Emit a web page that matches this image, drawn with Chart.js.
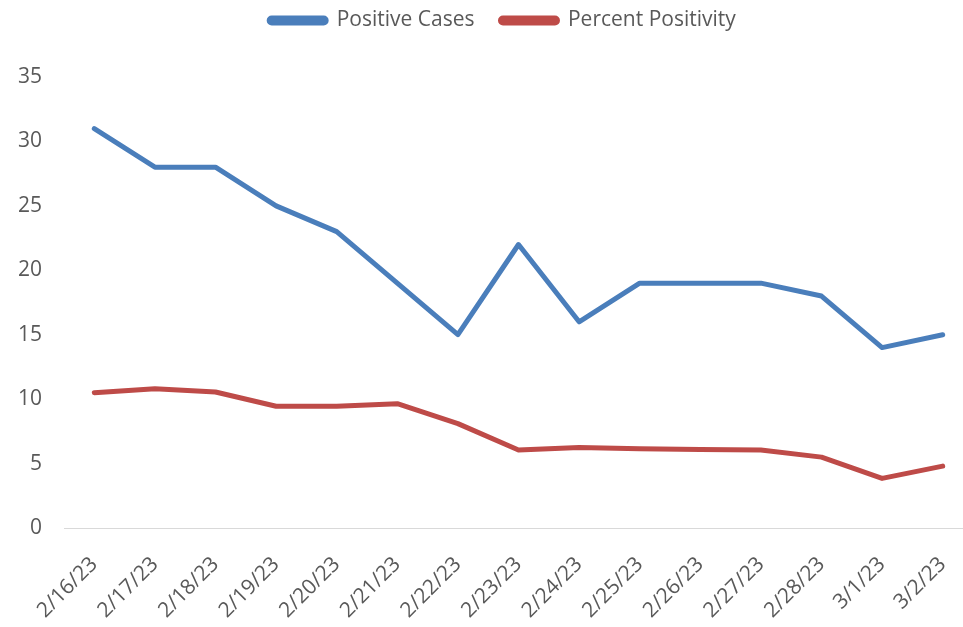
<!DOCTYPE html>
<html>
<head>
<meta charset="utf-8">
<script src="https://cdn.jsdelivr.net/npm/chart.js@4"></script>
<style>
  html, body { margin: 0; padding: 0; background: #fff; overflow: hidden; }
  canvas { display: block; }
</style>
</head>
<body>
<!-- a little wider than the window: the plot runs past the right edge, as in the original -->
<canvas id="chart" width="973" height="627"></canvas>
<script>
const dates = ['2/16/23', '2/17/23', '2/18/23', '2/19/23', '2/20/23', '2/21/23', '2/22/23', '2/23/23',
  '2/24/23', '2/25/23', '2/26/23', '2/27/23', '2/28/23', '3/1/23', '3/2/23'];
const positiveCases = [31, 28, 28, 25, 23, 19, 15, 22, 16, 19, 19, 19, 18, 14, 15];
const percentPositivity = [10.5, 10.8, 10.55, 9.45, 9.45, 9.65, 8.1, 6.05, 6.25, 6.15, 6.1, 6.05, 5.5, 3.85, 4.8];
const yTicks = [0, 5, 10, 15, 20, 25, 30, 35];

const textColor = '#595959';
const fontFamily = '"Open Sans", "Noto Sans", sans-serif';

// legend in the original sits a bit right of the canvas centre
const legendShift = {
  id: 'legendShift',
  afterLayout(chart) {
    chart.legend.left += 16;
    chart.legend.right += 16;
  },
};

new Chart(document.getElementById('chart'), {
  type: 'line',
  data: {
    labels: dates,
    datasets: [
      {
        label: 'Positive Cases',
        data: positiveCases,
        borderColor: '#4A7EBB',
        backgroundColor: '#4A7EBB',
        borderWidth: 5,
        borderJoinStyle: 'round',
        borderCapStyle: 'round',
        pointRadius: 0,
        tension: 0,
      },
      {
        label: 'Percent Positivity',
        data: percentPositivity,
        borderColor: '#BE4B48',
        backgroundColor: '#BE4B48',
        borderWidth: 5,
        borderJoinStyle: 'round',
        borderCapStyle: 'round',
        pointRadius: 0,
        tension: 0,
      },
    ],
  },
  plugins: [legendShift],
  options: {
    responsive: false,
    animation: false,
    layout: { padding: { top: -16, right: 0, left: 0, bottom: 0 } },
    plugins: {
      legend: {
        position: 'top',
        align: 'center',
        labels: {
          boxWidth: 57,
          boxHeight: 5,
          useBorderRadius: true,
          borderRadius: 2.5,
          padding: 26,
          color: textColor,
          font: { family: fontFamily, size: 21 },
        },
      },
      // empty spacer between legend and plot
      subtitle: {
        display: true,
        text: '',
        weight: 500,
        font: { size: 12, lineHeight: 1 },
        padding: { top: 0, bottom: 24 },
      },
      tooltip: { enabled: false },
    },
    scales: {
      x: {
        offset: true,
        grid: { display: false, drawTicks: false },
        border: { display: true, color: '#D9D9D9', width: 1 },
        ticks: {
          color: textColor,
          font: { family: fontFamily, size: 21 },
          maxRotation: 45,
          minRotation: 45,
          padding: 24,
          autoSkip: false,
        },
        afterFit: s => {
          s.height = 99;
          s.paddingLeft = 0;
          s.paddingRight = 0;
        },
      },
      y: {
        min: 0,
        max: 35,
        grid: { display: false, drawTicks: false },
        border: { display: false },
        afterBuildTicks: s => { s.ticks = yTicks.map(v => ({ value: v })); },
        ticks: {
          color: textColor,
          font: { family: fontFamily, size: 21 },
          padding: 22,
        },
        afterFit: s => { s.width = 64; },
      },
    },
  },
});
</script>
</body>
</html>
